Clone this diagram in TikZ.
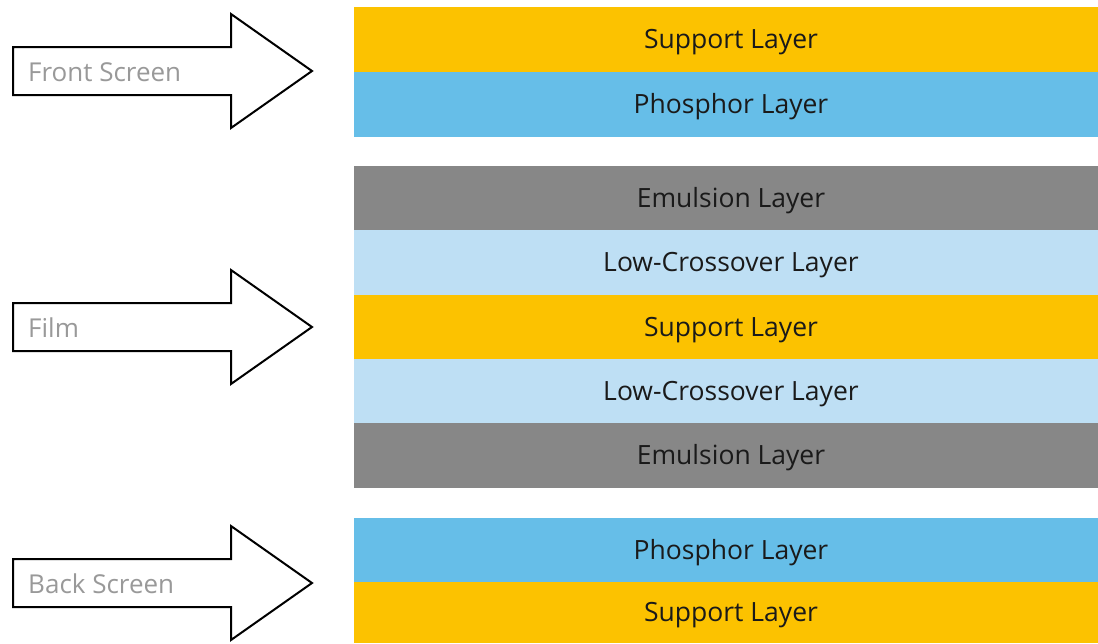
\documentclass[tikz,border=0pt]{standalone}
\usepackage{fontspec}
\setmainfont{Open Sans}
\definecolor{supp}{HTML}{FCC200}
\definecolor{phos}{HTML}{66BEE8}
\definecolor{emul}{HTML}{878787}
\definecolor{lowc}{HTML}{BEDFF4}
\definecolor{lbl}{HTML}{999999}
\definecolor{txt}{HTML}{1A1A1A}
\begin{document}
\begin{tikzpicture}[x=1pt,y=-1pt,
  layer/.style={minimum width=744pt,inner sep=0pt,outer sep=0pt,anchor=north west,fill=#1},
  layertext/.style={text=txt,inner sep=0pt,anchor=base,font=\fontsize{26.5}{30}\selectfont},
  arrowshape/.style={draw=black,line width=2pt,fill=white,line join=miter},
  arrowlabel/.style={anchor=base west,text=lbl,inner sep=0pt,font=\fontsize{26}{30}\selectfont}]
\useasboundingbox (0,0) rectangle (1098,643);
\foreach \nm/\c/\y/\h/\t in {
  fs/supp/7/65/Support Layer,
  fp/phos/72/65/Phosphor Layer,
  e1/emul/166/64/Emulsion Layer,
  l1/lowc/230/65/Low-Crossover Layer,
  s2/supp/295/64/Support Layer,
  l2/lowc/359/64/Low-Crossover Layer,
  e2/emul/423/65/Emulsion Layer,
  bp/phos/518/64/Phosphor Layer,
  bs/supp/582/61/Support Layer}{
  \node[layer=\c,minimum height=\h pt] (\nm) at (354,\y) {};
  \node[layertext] (\nm t) at ([xshift=5pt,yshift=-9pt]\nm.center) {\t};
}
% arrows
\foreach \cy/\nm/\t in {71/a1/Front Screen, 327/a2/Film, 583/a3/Back Screen}{
  \draw[arrowshape] (13,\cy-24) -- (231,\cy-24) -- (231,\cy-57) -- (312,\cy) -- (231,\cy+57) -- (231,\cy+24) -- (13,\cy+24) -- cycle;
  \node[arrowlabel] (\nm) at (28,\cy+10) {\t};
}
\end{tikzpicture}
\end{document}
